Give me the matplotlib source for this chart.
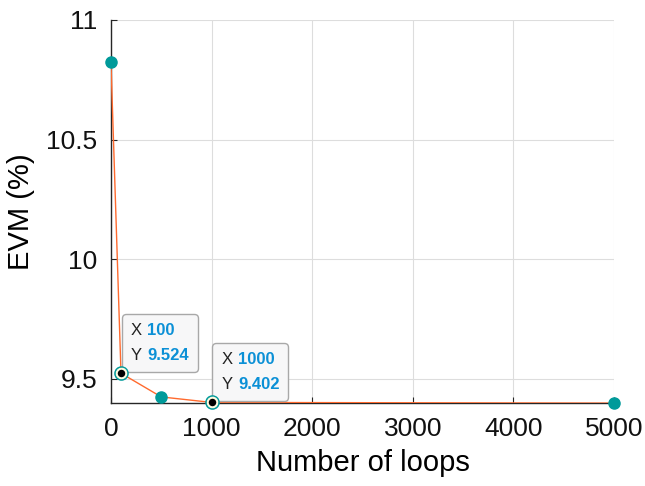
import matplotlib
matplotlib.use("Agg")
import matplotlib.pyplot as plt
from matplotlib.offsetbox import TextArea, HPacker, VPacker, AnnotationBbox

plt.rcParams["font.family"] = ["Liberation Sans", "DejaVu Sans"]

loops = [0, 100, 500, 1000, 5000]
evm = [10.826, 9.524, 9.425, 9.402, 9.399]
tips = [(100, 9.524, "100", "9.524"), (1000, 9.402, "1000", "9.402")]

LINE = "#ff6a2e"
TEAL = "#009a9a"
BLUE = "#0b90d6"

fig = plt.figure(figsize=(6.45, 4.86), dpi=100)
ax = fig.add_axes([0.172, 0.171, 0.780, 0.788])

ax.plot(loops, evm, color=LINE, lw=1.0, zorder=3)
ax.plot(loops, evm, ls="none", marker="o", ms=8, mfc=TEAL, mec=TEAL, zorder=4,
        clip_on=False)

ax.set_xlim(0, 5000)
ax.set_ylim(9.4, 11)
ax.set_xticks([0, 1000, 2000, 3000, 4000, 5000])
ax.set_yticks([9.5, 10, 10.5, 11])
ax.set_yticklabels(["9.5", "10", "10.5", "11"])
ax.grid(True, color="#dddddd", lw=0.8)
ax.set_axisbelow(True)
for s in ["top", "right"]:
    ax.spines[s].set_visible(False)
for s in ["left", "bottom"]:
    ax.spines[s].set_color("#262626")
    ax.spines[s].set_linewidth(1.0)
ax.tick_params(labelsize=19, direction="in", length=4, width=0.8, pad=10,
               colors="#262626", labelcolor="#111111")
ax.set_xlabel("Number of loops", fontsize=21, labelpad=6)
ax.set_ylabel("EVM (%)", fontsize=21, labelpad=8)

# datatips
for x, y, xs, ys in tips:
    rows = []
    for lab, val in (("X", xs), ("Y", ys)):
        rows.append(HPacker(children=[
            TextArea(lab, textprops=dict(color="#222222", fontsize=12)),
            TextArea(val, textprops=dict(color=BLUE, fontsize=12, fontweight="bold")),
        ], pad=0, sep=4, align="baseline"))
    box = VPacker(children=rows, pad=0, sep=7, align="left")
    ab = AnnotationBbox(box, (x, y), xybox=(7, 7.5), boxcoords="offset points",
                        box_alignment=(0, 0), frameon=True, pad=0,
                        bboxprops=dict(boxstyle="round,pad=0.65,rounding_size=0.3",
                                       fc="#f7f7f8", ec="#a8a8a8", lw=1.0),
                        zorder=6)
    ax.add_artist(ab)
    ax.plot([x], [y], ls="none", marker="o", ms=7, mfc="black", mec="#fffbe0",
            mew=1.6, zorder=7, clip_on=False)
    ax.plot([x], [y], ls="none", marker="o", ms=9.5, mfc="none", mec=TEAL,
            mew=1.0, zorder=7, clip_on=False)

fig.savefig("out.png", dpi=100)
